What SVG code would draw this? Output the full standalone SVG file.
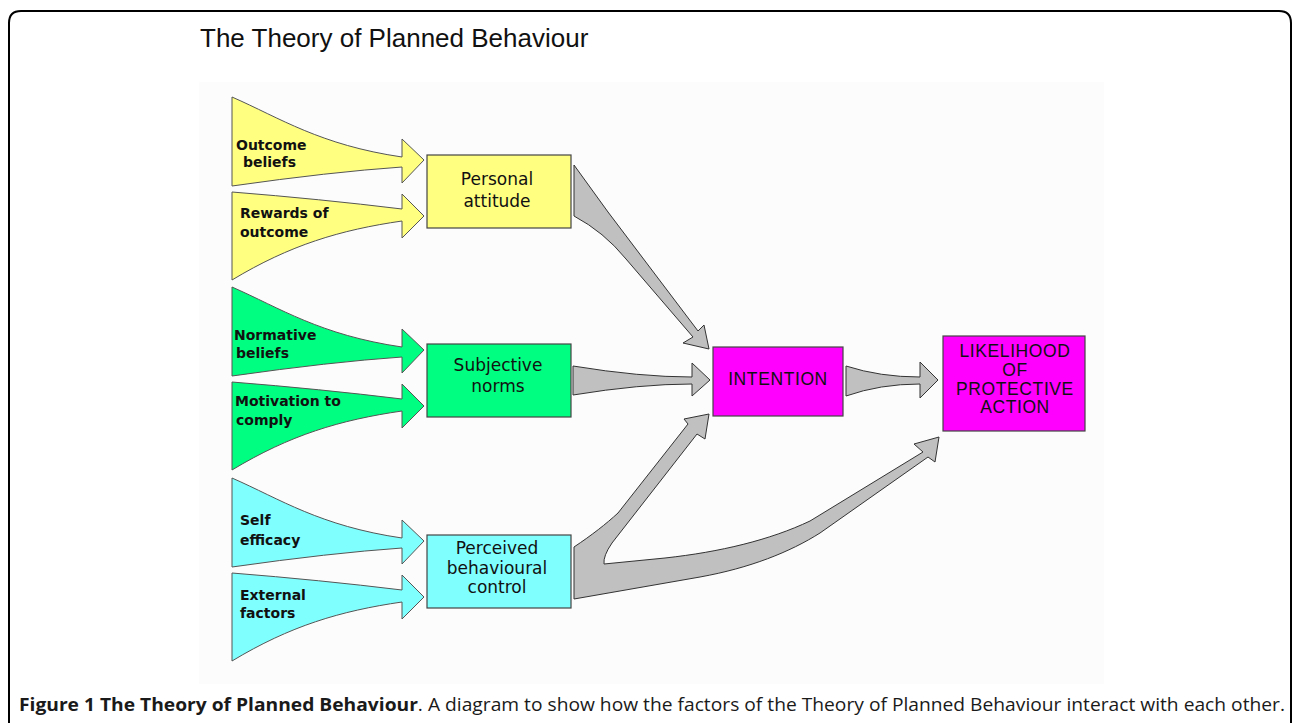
<svg xmlns="http://www.w3.org/2000/svg" xmlns:xlink="http://www.w3.org/1999/xlink" width="1292" height="723" viewBox="0 0 1292 723">
<style>
.fan{stroke:#555;stroke-width:1}
.yel{fill:#FFFF80}
.grn{fill:#00FF80}
.cyn{fill:#80FFFF}
.mag{fill:#FF00FF}
.box{stroke:#444;stroke-width:1.2}
.flow{fill:#C0C0C0;stroke:#333;stroke-width:1;stroke-linejoin:miter}
.in{font-family:"DejaVu Sans","Verdana",sans-serif;font-size:14px;font-weight:bold;fill:#111}
.lbl{font-family:"DejaVu Sans","Verdana",sans-serif;font-size:17px;fill:#111;text-anchor:middle}
.cap{font-family:"Liberation Sans",Arial,sans-serif;font-size:17.5px;letter-spacing:0.6px;fill:#111;text-anchor:middle}
</style>
<defs>
<path id="upperFan" d="M232,97 C280,118 320,145 402,157 L402,139 L424,160 L402,183 L402,167 Q330,172 232,186 Z"/>
<path id="lowerFan" d="M232,192 Q320,199 402,209 L402,194 L424,216 L402,238 L402,221 C340,230 290,245 232,280 Z"/>
</defs>
<rect width="1292" height="723" fill="#fff"/>
<path d="M9,723 L9,23 Q9,11 21,11 L1279,11 Q1291,11 1291,23 L1291,723" fill="none" stroke="#000" stroke-width="2"/>
<rect x="199" y="82" width="905" height="602" fill="#fcfcfc"/>
<text x="200" y="47" font-family="'Liberation Sans',Arial,sans-serif" font-size="26" fill="#111">The Theory of Planned Behaviour</text>

<g id="outcome-beliefs">
<use xlink:href="#upperFan" class="fan yel"/>
<text class="in"><tspan x="236" y="150">Outcome</tspan><tspan x="243" y="167">beliefs</tspan></text>
</g>
<g id="rewards-of-outcome">
<use xlink:href="#lowerFan" class="fan yel"/>
<text class="in"><tspan x="240" y="218">Rewards of</tspan><tspan x="240" y="237">outcome</tspan></text>
</g>
<g id="normative-beliefs">
<use xlink:href="#upperFan" class="fan grn" transform="translate(0,190)"/>
<text class="in"><tspan x="234" y="340">Normative</tspan><tspan x="236" y="358">beliefs</tspan></text>
</g>
<g id="motivation-to-comply">
<use xlink:href="#lowerFan" class="fan grn" transform="translate(0,190)"/>
<text class="in"><tspan x="235" y="406">Motivation to</tspan><tspan x="236" y="425">comply</tspan></text>
</g>
<g id="self-efficacy">
<use xlink:href="#upperFan" class="fan cyn" transform="translate(0,381)"/>
<text class="in"><tspan x="240" y="525">Self</tspan><tspan x="240" y="545">efficacy</tspan></text>
</g>
<g id="external-factors">
<use xlink:href="#lowerFan" class="fan cyn" transform="translate(0,381)"/>
<text class="in"><tspan x="240" y="600">External</tspan><tspan x="240" y="618">factors</tspan></text>
</g>

<g id="personal-attitude">
<rect class="box yel" x="427" y="155" width="144" height="73"/>
<text class="lbl"><tspan x="497" y="185">Personal</tspan><tspan x="497" y="207">attitude</tspan></text>
</g>
<g id="subjective-norms">
<rect class="box grn" x="427" y="344" width="144" height="73"/>
<text class="lbl"><tspan x="498" y="371">Subjective</tspan><tspan x="498" y="392">norms</tspan></text>
</g>
<g id="perceived-behavioural-control">
<rect class="box cyn" x="427" y="535" width="144" height="73"/>
<text class="lbl"><tspan x="497" y="554">Perceived</tspan><tspan x="497" y="574">behavioural</tspan><tspan x="497" y="593">control</tspan></text>
</g>
<g id="intention">
<rect class="box mag" x="713" y="347" width="130" height="69"/>
<text class="cap" x="778" y="385">INTENTION</text>
</g>
<g id="likelihood">
<rect class="box mag" x="943" y="336" width="142" height="95"/>
<text class="cap"><tspan x="1015" y="357">LIKELIHOOD</tspan><tspan x="1015" y="376">OF</tspan><tspan x="1015" y="395">PROTECTIVE</tspan><tspan x="1015" y="413">ACTION</tspan></text>
</g>

<g id="connectors">
<path class="flow" d="M574,165 L608,212 L698,331 L704,325 L709,349 L683,343 L693,337 L626,259 Q604,232 574,216 Z"/>
<path class="flow" d="M573,366 Q640,377 692,377 L692,363 L710,380 L692,396 L692,384 Q640,384 573,395 Z"/>
<path class="flow" d="M846,366 Q880,377 920,377 L920,362 L938,380 L920,398 L920,384 Q880,384 846,396 Z"/>
<path class="flow" d="M574,547 C592,535 606,524 618,513 L688,424 L684,419 L709,414 L705,439 L697,434 L612,543 Q603,556 604,564 L665,558 C720,552 770,540 810,521 L923,452 L914,444 L939,437 L935,462 L928,457 L820,533 C790,552 750,568 700,577 L574,599 Z"/>
</g>

<text x="19" y="711" font-family="'Open Sans','Noto Sans',sans-serif" font-size="18" fill="#1a1a1a" textLength="1266" lengthAdjust="spacingAndGlyphs"><tspan font-weight="bold">Figure 1 The Theory of Planned Behaviour</tspan>. A diagram to show how the factors of the Theory of Planned Behaviour interact with each other.</text>
</svg>
